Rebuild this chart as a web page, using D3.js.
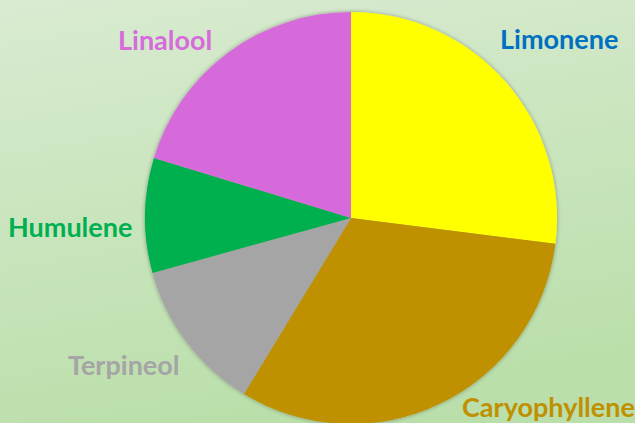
<!DOCTYPE html>
<html>
<head>
<meta charset="utf-8">
<script src="https://cdn.jsdelivr.net/npm/d3@7"></script>
<style>
  html, body { margin: 0; padding: 0; overflow: hidden; }
  #chart { width: 635px; height: 423px; }
  .pie-label { font-family: Lato, "Open Sans", sans-serif; font-weight: bold; }
</style>
</head>
<body>
<div id="chart"></div>
<script>
// terpene shares (clockwise from 12 o'clock)
const categories = ["Limonene", "Caryophyllene", "Terpineol", "Humulene", "Linalool"];
const values = [27, 31.7, 12, 9, 20.3];
const colors = ["#FFFF00", "#BF9000", "#A5A5A5", "#00B050", "#D66BDB"];
const labelColors = ["#0070C0", "#BF9000", "#A5A5A5", "#00B050", "#D66BDB"];

const width = 635, height = 423;

let svg = d3.select("#chart").append("svg")
    .attr("width", width)
    .attr("height", height);

let defs = svg.append("defs");

// background gradient
let grad = defs.append("linearGradient")
    .attr("id", "bg")
    .attr("x1", "0").attr("y1", "0")
    .attr("x2", "0.25").attr("y2", "1");
grad.append("stop").attr("offset", "0%").attr("stop-color", "#d9ebd1");
grad.append("stop").attr("offset", "100%").attr("stop-color", "#bbdfab");

// soft shadow around the pie
let shadow = defs.append("filter")
    .attr("id", "shadow")
    .attr("x", "-10%").attr("y", "-10%")
    .attr("width", "120%").attr("height", "120%");
shadow.append("feDropShadow")
    .attr("dx", 0).attr("dy", 0)
    .attr("stdDeviation", 2)
    .attr("flood-color", "#000")
    .attr("flood-opacity", 0.35);

svg.append("rect")
    .attr("width", width)
    .attr("height", height)
    .attr("fill", "url(#bg)");

// pie setup
let cx = 351, cy = 218, radius = 206;

let pie = d3.pie()
    .sort(null)
    .value(d => d);

let arc = d3.arc()
    .innerRadius(0)
    .outerRadius(radius);

let pieGroup = svg.append("g")
    .attr("transform", `translate(${cx},${cy})`)
    .attr("filter", "url(#shadow)");

pieGroup.selectAll(".pie-arc")
    .data(pie(values))
    .enter()
    .append("path")
    .attr("class", "pie-arc")
    .attr("d", arc)
    .attr("fill", (d, i) => colors[i]);

// labels (outside, left-anchored at x, baseline at y)
const labelX = [500, 462, 68, 8, 118];
const labelY = [49, 417, 375, 237, 50];

svg.selectAll(".pie-label")
    .data(categories)
    .enter()
    .append("text")
    .attr("class", "pie-label")
    .attr("x", (d, i) => labelX[i])
    .attr("y", (d, i) => labelY[i])
    .attr("font-size", 27)
    .attr("fill", (d, i) => labelColors[i])
    .text(d => d);
</script>
</body>
</html>
